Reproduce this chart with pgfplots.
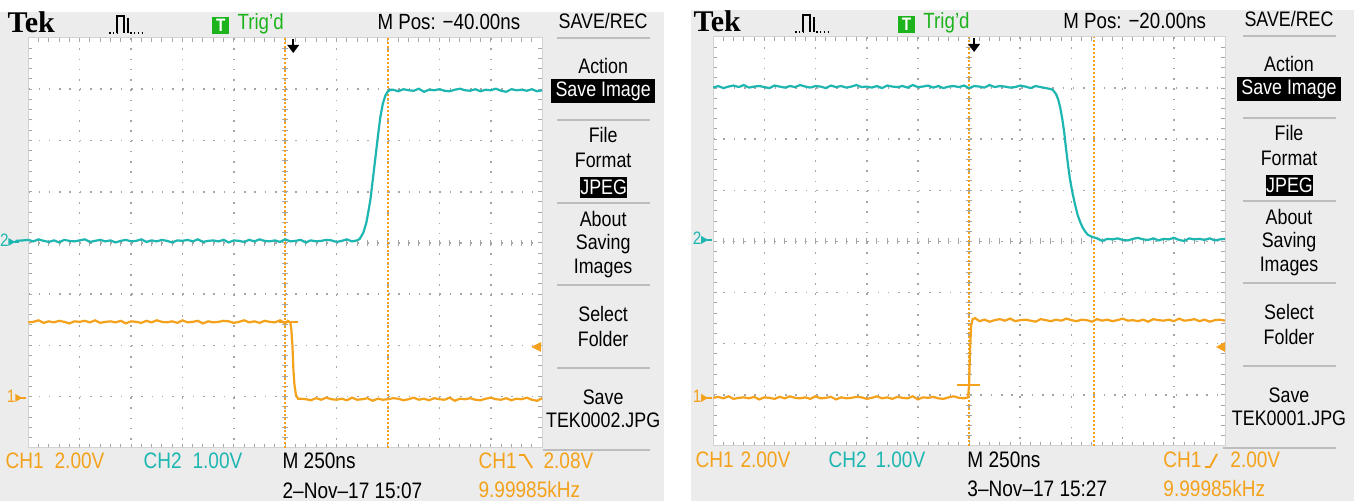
\documentclass[border=0pt]{standalone}
\usepackage{pgfplots}
\pgfplotsset{compat=1.18}
\usepackage{fontspec}
\setmainfont{Liberation Sans}[FakeStretch=0.85]
\newfontfamily\tekfont{Liberation Serif}
\definecolor{tekorange}{HTML}{F4A21C}
\definecolor{tekcyan}{HTML}{1EB6B0}
\definecolor{tekgreen}{HTML}{1DB31D}
\definecolor{panelbg}{HTML}{ECECEC}
\definecolor{sepc}{HTML}{BDBDBD}
\definecolor{gridc}{HTML}{A6A6A6}
\newcommand\mfont{\fontsize{10.5}{12}\selectfont}
\newcommand\bfont{\fontsize{11.2}{13}\selectfont}
\newcommand\hfont{\fontsize{11}{13}\selectfont}

% graticule: x0,y0,w,h (px)
\newcommand\graticule[4]{%
  \fill[white] (#1,#2) rectangle ++(#3,#4);
  \foreach \k in {1,...,9}{%
    \draw[gridc,line width=0.8pt,dash pattern=on 0.8pt off 4.33pt] ({#1+\k*(#3/10)},#2) -- ++(0,#4);}
  \foreach \k in {1,...,7}{%
    \draw[gridc,line width=0.8pt,dash pattern=on 0.8pt off 4.34pt] (#1,{#2+\k*(#4/8)}) -- ++(#3,0);}
  \foreach \m in {1,...,49}{%
    \draw[gridc,line width=0.5pt] ({#1+\m*(#3/50)},#2) -- ++(0,4);
    \draw[gridc,line width=0.5pt] ({#1+\m*(#3/50)},{#2+#4}) -- ++(0,-4);
    \draw[gridc,line width=0.5pt] ({#1+\m*(#3/50)},{#2+#4/2-3}) -- ++(0,6);}
  \foreach \m in {1,...,39}{%
    \draw[gridc,line width=0.5pt] (#1,{#2+\m*(#4/40)}) -- ++(4,0);
    \draw[gridc,line width=0.5pt] ({#1+#3},{#2+\m*(#4/40)}) -- ++(-4,0);
    \draw[gridc,line width=0.5pt] ({#1+#3/2-3},{#2+\m*(#4/40)}) -- ++(6,0);}
  \draw[gridc!50,line width=0.5pt] (#1,#2) rectangle ++(#3,#4);
}

\newcommand\menu[4]{% xc, dy, filename, bottom-line left offset
 \begin{scope}[shift={(#1,#2)}]
  \node[anchor=base,inner sep=0,font=\mfont] at (0,29) {SAVE/REC};
  \foreach \yy in {38,120,203,285,368}{\draw[sepc,line width=0.9pt] (-46,\yy) -- (47,\yy);}
  \node[anchor=base,inner sep=0,font=\mfont] at (0,74) {Action};
  \fill[black] (-52,79) rectangle (52,103);
  \node[anchor=base,inner sep=0,font=\mfont,text=white] at (0,97) {Save Image};
  \node[anchor=base,inner sep=0,font=\mfont] at (0,143) {File};
  \node[anchor=base,inner sep=0,font=\mfont] at (0,168) {Format};
  \fill[black] (-23,177) rectangle (24,198);
  \node[anchor=base,inner sep=0,font=\mfont,text=white] at (0.5,195) {JPEG};
  \node[anchor=base,inner sep=0,font=\mfont] at (0,227) {About};
  \node[anchor=base,inner sep=0,font=\mfont] at (0,250) {Saving};
  \node[anchor=base,inner sep=0,font=\mfont] at (0,274) {Images};
  \node[anchor=base,inner sep=0,font=\mfont] at (0,322) {Select};
  \node[anchor=base,inner sep=0,font=\mfont] at (0,347) {Folder};
  \node[anchor=base,inner sep=0,font=\mfont] at (0,405) {Save};
  \node[anchor=base,inner sep=0,font=\mfont] at (0,428) {#3};
  \draw[sepc,line width=0.9pt] (#4,450) -- (47,450);
 \end{scope}}

\newcommand\header[3]{% x0, dy, mpos
 \begin{scope}[shift={(#1,#2)}]
  \node[anchor=base west,inner sep=0,font=\tekfont\bfseries\fontsize{15}{16}\selectfont] at (7,33) {Tek};
  \draw[line width=0.7pt,dash pattern=on 0.7pt off 1.2pt] (109,33) -- (117,33);
  \draw[line width=0.8pt] (117,33) -- (117,16) -- (124,16) -- (124,33);
  \draw[line width=0.8pt] (128,18) -- (128,33);
  \draw[line width=0.7pt,dash pattern=on 0.7pt off 1.2pt] (130,33) -- (145,33);
  \fill[tekgreen] (212,17) rectangle (229,34);
  \node[text=white,inner sep=0,font=\fontsize{9}{10}\selectfont\bfseries] at (220.5,25.5) {T};
  \node[anchor=base west,inner sep=0,font=\hfont,text=tekgreen] at (237,30) {Trig’d};
  \node[anchor=base west,inner sep=0,font=\hfont] at (377,30) {M Pos: #3};
 \end{scope}}

\newcommand\chmark[4]{% x, y, colour, label
  \node[anchor=base,inner sep=0,text=#3,font=\fontsize{9}{10}\selectfont] at (#1,{#2+5}) {#4};
  \fill[#3] ({#1+4},{#2-4}) -- ({#1+11},#2) -- ({#1+4},{#2+4}) -- cycle;
  \draw[#3,line width=0.8pt] ({#1+10},#2) -- ({#1+15},#2);
}

\begin{document}
\begin{tikzpicture}
\begin{scope}[x=0.5pt,y=-0.5pt]
  \fill[white] (0,0) rectangle (1356,501);
  \fill[panelbg] (0,12) rectangle (664,501);
  \fill[panelbg] (691,10) rectangle (1354,501);
  \graticule{28}{38}{514}{410}
  \graticule{713}{37}{512}{409}
\end{scope}

% ---------------- left screen ----------------
\begin{axis}[at={(14pt,-19pt)},anchor=north west,scale only axis,
  width=257pt,height=205pt,xmin=0,xmax=10,ymin=-4,ymax=4,hide axis,no markers,clip=false]
\draw[tekorange,line width=0.9pt,dash pattern=on 0.9pt off 1.1pt] (axis cs:5,-4) -- (axis cs:5,4);
\draw[tekorange,line width=0.9pt,dash pattern=on 0.9pt off 1.1pt] (axis cs:7,-4) -- (axis cs:7,4);
% CH2
\addplot[tekcyan,line width=1.1pt] coordinates {
(-0.25,0.04)(-0.1,0.05)
(0.0,0.06)(0.1,0.03)(0.2,0.07)(0.3,0.04)(0.4,0.02)(0.5,0.05)(0.6,0.01)(0.7,0.06)(0.8,0.04)(0.9,0.03)
(1.0,0.05)(1.1,0.07)(1.2,0.02)(1.3,0.04)(1.4,0.06)(1.5,0.03)(1.6,0.05)(1.7,0.01)(1.8,0.04)(1.9,0.06)
(2.0,0.03)(2.1,0.04)(2.2,0.07)(2.3,0.02)(2.4,0.05)(2.5,0.03)(2.6,0.06)(2.7,0.04)(2.8,0.01)(2.9,0.05)
(3.0,0.04)(3.1,0.06)(3.2,0.03)(3.3,0.07)(3.4,0.02)(3.5,0.04)(3.6,0.05)(3.7,0.03)(3.8,0.06)(3.9,0.01)
(4.0,0.05)(4.1,0.04)(4.2,0.02)(4.3,0.06)(4.4,0.03)(4.5,0.07)(4.6,0.04)(4.7,0.03)(4.8,0.05)(4.9,0.02)
(5.0,0.07)(5.1,0.03)(5.2,0.04)(5.3,0.06)(5.4,0.01)(5.5,0.05)(5.6,0.03)(5.7,0.04)(5.8,0.06)(5.9,0.05)
(6.0,0.02)(6.1,0.04)(6.2,0.07)(6.3,0.03)
(6.40,0.05)(6.45,0.08)(6.52,0.20)(6.58,0.40)(6.62,0.62)(6.66,0.86)(6.70,1.20)(6.75,1.62)(6.80,2.05)
(6.85,2.45)(6.90,2.72)(6.95,2.88)(7.00,2.96)(7.05,2.99)
(7.1,2.99)(7.2,2.96)(7.3,3.00)(7.4,2.98)(7.5,2.97)(7.6,3.01)(7.7,2.95)(7.8,2.99)(7.9,2.98)(8.0,3.00)
(8.1,2.97)(8.2,2.96)(8.3,2.99)(8.4,3.01)(8.5,2.98)(8.6,2.97)(8.7,3.00)(8.8,2.96)(8.9,2.99)(9.0,2.98)
(9.1,3.01)(9.2,2.97)(9.3,2.95)(9.4,3.00)(9.5,2.98)(9.6,2.99)(9.7,2.97)(9.8,3.00)(9.9,2.96)(10.0,2.98)
};
% CH1
\addplot[tekorange,line width=1.1pt] coordinates {
(0.0,-1.55)(0.1,-1.54)(0.2,-1.51)(0.3,-1.56)(0.4,-1.53)(0.5,-1.55)(0.6,-1.52)(0.7,-1.54)(0.8,-1.57)(0.9,-1.53)
(1.0,-1.54)(1.1,-1.52)(1.2,-1.55)(1.3,-1.51)(1.4,-1.56)(1.5,-1.54)(1.6,-1.53)(1.7,-1.55)(1.8,-1.52)(1.9,-1.57)
(2.0,-1.53)(2.1,-1.54)(2.2,-1.56)(2.3,-1.52)(2.4,-1.55)(2.5,-1.51)(2.6,-1.54)(2.7,-1.55)(2.8,-1.53)(2.9,-1.56)
(3.0,-1.51)(3.1,-1.55)(3.2,-1.54)(3.3,-1.52)(3.4,-1.57)(3.5,-1.53)(3.6,-1.55)(3.7,-1.54)(3.8,-1.52)(3.9,-1.53)
(4.0,-1.56)(4.1,-1.54)(4.2,-1.51)(4.3,-1.55)(4.4,-1.53)(4.5,-1.56)(4.6,-1.52)(4.7,-1.54)(4.8,-1.55)(4.9,-1.51)
(5.0,-1.57)(5.05,-1.52)(5.10,-1.55)
(5.12,-1.70)(5.14,-1.99)(5.16,-2.48)(5.18,-2.77)(5.21,-2.97)(5.25,-3.04)
(5.3,-3.04)(5.4,-3.05)(5.5,-3.07)(5.6,-3.03)(5.7,-3.06)(5.8,-3.02)(5.9,-3.05)(6.0,-3.06)(6.1,-3.04)(6.2,-3.07)
(6.3,-3.02)(6.4,-3.06)(6.5,-3.05)(6.6,-3.03)(6.7,-3.08)(6.8,-3.04)(6.9,-3.06)(7.0,-3.05)(7.1,-3.03)(7.2,-3.04)
(7.3,-3.07)(7.4,-3.05)(7.5,-3.02)(7.6,-3.06)(7.7,-3.04)(7.8,-3.07)(7.9,-3.03)(8.0,-3.05)(8.1,-3.06)(8.2,-3.02)
(8.3,-3.08)(8.4,-3.04)(8.5,-3.05)(8.6,-3.03)(8.7,-3.06)(8.8,-3.07)(8.9,-3.04)(9.0,-3.02)(9.1,-3.05)(9.2,-3.06)
(9.3,-3.03)(9.4,-3.07)(9.5,-3.04)(9.6,-3.05)(9.7,-3.02)(9.8,-3.06)(9.9,-3.08)(10.0,-3.03)
};
\end{axis}

% ---------------- right screen ----------------
\begin{axis}[at={(356.5pt,-18.5pt)},anchor=north west,scale only axis,
  width=256pt,height=204.5pt,xmin=0,xmax=10,ymin=-4,ymax=4,hide axis,no markers]
\draw[tekorange,line width=0.9pt,dash pattern=on 0.9pt off 1.1pt] (axis cs:5,-4) -- (axis cs:5,4);
\draw[tekorange,line width=0.9pt,dash pattern=on 0.9pt off 1.1pt] (axis cs:7.44,-4) -- (axis cs:7.44,4);
% CH2
\addplot[tekcyan,line width=1.1pt] coordinates {
(0.0,3.01)(0.1,3.04)(0.2,3.00)(0.3,3.03)(0.4,3.05)(0.5,3.02)(0.6,3.06)(0.7,3.01)(0.8,3.03)(0.9,3.04)
(1.0,3.02)(1.1,3.00)(1.2,3.05)(1.3,3.03)(1.4,3.01)(1.5,3.04)(1.6,3.02)(1.7,3.06)(1.8,3.03)(1.9,3.01)
(2.0,3.04)(2.1,3.03)(2.2,3.00)(2.3,3.05)(2.4,3.02)(2.5,3.04)(2.6,3.01)(2.7,3.03)(2.8,3.06)(2.9,3.02)
(3.0,3.03)(3.1,3.01)(3.2,3.04)(3.3,3.00)(3.4,3.05)(3.5,3.03)(3.6,3.02)(3.7,3.04)(3.8,3.01)(3.9,3.06)
(4.0,3.02)(4.1,3.03)(4.2,3.05)(4.3,3.01)(4.4,3.04)(4.5,3.00)(4.6,3.03)(4.7,3.04)(4.8,3.02)(4.9,3.05)
(5.0,3.00)(5.1,3.04)(5.2,3.03)(5.3,3.01)(5.4,3.06)(5.5,3.02)(5.6,3.04)(5.7,3.03)(5.8,3.01)(5.9,3.02)
(6.0,3.05)(6.1,3.03)(6.2,3.00)(6.3,3.04)(6.4,3.02)
(6.5,3.00)(6.6,2.98)(6.64,2.96)(6.70,2.88)(6.74,2.78)(6.78,2.62)(6.82,2.40)(6.86,2.12)(6.89,1.85)
(6.93,1.52)(6.97,1.22)(7.02,0.95)(7.07,0.72)(7.12,0.52)(7.17,0.38)(7.22,0.27)(7.27,0.19)(7.32,0.13)
(7.40,0.09)(7.50,0.06)
(7.6,0.01)(7.7,0.05)(7.8,0.04)(7.9,0.06)(8.0,0.03)(8.1,0.02)(8.2,0.05)(8.3,0.07)(8.4,0.04)(8.5,0.03)
(8.6,0.06)(8.7,0.02)(8.8,0.05)(8.9,0.04)(9.0,0.07)(9.1,0.03)(9.2,0.01)(9.3,0.06)(9.4,0.04)(9.5,0.05)
(9.6,0.03)(9.7,0.06)(9.8,0.02)(9.9,0.04)(10.0,0.05)
};
% CH1
\addplot[tekorange,line width=1.1pt] coordinates {
(0.0,-3.06)(0.1,-3.04)(0.2,-3.07)(0.3,-3.03)(0.4,-3.08)(0.5,-3.06)(0.6,-3.05)(0.7,-3.07)(0.8,-3.04)(0.9,-3.09)
(1.0,-3.05)(1.1,-3.06)(1.2,-3.08)(1.3,-3.04)(1.4,-3.07)(1.5,-3.03)(1.6,-3.06)(1.7,-3.07)(1.8,-3.05)(1.9,-3.08)
(2.0,-3.03)(2.1,-3.07)(2.2,-3.06)(2.3,-3.04)(2.4,-3.09)(2.5,-3.05)(2.6,-3.07)(2.7,-3.06)(2.8,-3.04)(2.9,-3.05)
(3.0,-3.08)(3.1,-3.06)(3.2,-3.03)(3.3,-3.07)(3.4,-3.05)(3.5,-3.08)(3.6,-3.04)(3.7,-3.06)(3.8,-3.07)(3.9,-3.03)
(4.0,-3.09)(4.1,-3.05)(4.2,-3.06)(4.3,-3.04)(4.4,-3.07)(4.5,-3.08)(4.6,-3.05)(4.7,-3.03)(4.8,-3.06)(4.9,-3.07)
(4.98,-3.05)(5.00,-2.80)(5.02,-2.10)(5.04,-1.65)(5.07,-1.52)(5.12,-1.50)
(5.2,-1.56)(5.3,-1.53)(5.4,-1.57)(5.5,-1.54)(5.6,-1.52)(5.7,-1.55)(5.8,-1.51)(5.9,-1.56)(6.0,-1.54)(6.1,-1.53)
(6.2,-1.55)(6.3,-1.57)(6.4,-1.52)(6.5,-1.54)(6.6,-1.56)(6.7,-1.53)(6.8,-1.55)(6.9,-1.51)(7.0,-1.54)(7.1,-1.56)
(7.2,-1.53)(7.3,-1.54)(7.4,-1.57)(7.5,-1.52)(7.6,-1.55)(7.7,-1.53)(7.8,-1.56)(7.9,-1.54)(8.0,-1.51)(8.1,-1.55)
(8.2,-1.54)(8.3,-1.56)(8.4,-1.53)(8.5,-1.57)(8.6,-1.52)(8.7,-1.54)(8.8,-1.55)(8.9,-1.53)(9.0,-1.56)(9.1,-1.51)
(9.2,-1.55)(9.3,-1.54)(9.4,-1.52)(9.5,-1.56)(9.6,-1.53)(9.7,-1.57)(9.8,-1.54)(9.9,-1.53)(10.0,-1.55)
};
\end{axis}

\begin{scope}[x=0.5pt,y=-0.5pt]
  % headers
  \header{0}{0}{−40.00ns}
  \header{686}{-1}{−20.00ns}
  % menus
  \menu{603}{0}{TEK0002.JPG}{-60}
  \menu{1289}{-2}{TEK0001.JPG}{-66}
  % channel markers
  \chmark{4}{242}{tekcyan}{2}
  \chmark{11}{398}{tekorange}{1}
  \chmark{697}{240}{tekcyan}{2}
  \chmark{697}{398}{tekorange}{1}
  % trigger level arrows
  \fill[tekorange] (531,347) -- (541,342) -- (541,352) -- cycle;
  \fill[tekorange] (1216,347) -- (1225,342) -- (1225,352) -- cycle;
  % trigger position arrows
  \draw[line width=1.2pt] (293,39) -- (293,47);
  \fill (287,45) -- (299,45) -- (293,53) -- cycle;
  \draw[line width=1.2pt] (974,38) -- (974,46);
  \fill (968,44) -- (980,44) -- (974,52) -- cycle;
  % small trigger marks
  \draw[tekorange,line width=0.9pt] (279,322) -- (298,322);
  \draw[tekorange,line width=0.9pt] (957,385) -- (980,385);
  % bottom readouts, left
  \node[anchor=base west,inner sep=0,font=\bfont,text=tekorange] at (5,469) {CH1};
  \node[anchor=base west,inner sep=0,font=\bfont,text=tekorange] at (54,469) {2.00V};
  \node[anchor=base west,inner sep=0,font=\bfont,text=tekcyan] at (143,469) {CH2};
  \node[anchor=base west,inner sep=0,font=\bfont,text=tekcyan] at (192,469) {1.00V};
  \node[anchor=base west,inner sep=0,font=\bfont] at (282,469) {M 250ns};
  \node[anchor=base west,inner sep=0,font=\bfont] at (282,499) {2–Nov–17 15:07};
  \node[anchor=base west,inner sep=0,font=\bfont,text=tekorange] at (478,469) {CH1};
  \draw[tekorange,line width=0.9pt] (519,455) -- (524,455) -- (532,468);
  \node[anchor=base west,inner sep=0,font=\bfont,text=tekorange] at (543,469) {2.08V};
  \node[anchor=base west,inner sep=0,font=\bfont,text=tekorange] at (478,498) {9.99985kHz};
  % bottom readouts, right
  \node[anchor=base west,inner sep=0,font=\bfont,text=tekorange] at (695,468) {CH1};
  \node[anchor=base west,inner sep=0,font=\bfont,text=tekorange] at (740,468) {2.00V};
  \node[anchor=base west,inner sep=0,font=\bfont,text=tekcyan] at (828,468) {CH2};
  \node[anchor=base west,inner sep=0,font=\bfont,text=tekcyan] at (875,468) {1.00V};
  \node[anchor=base west,inner sep=0,font=\bfont] at (967,468) {M 250ns};
  \node[anchor=base west,inner sep=0,font=\bfont] at (967,497) {3–Nov–17 15:27};
  \node[anchor=base west,inner sep=0,font=\bfont,text=tekorange] at (1163,468) {CH1};
  \draw[tekorange,line width=0.9pt] (1205,467) -- (1210,467) -- (1217,454);
  \node[anchor=base west,inner sep=0,font=\bfont,text=tekorange] at (1230,468) {2.00V};
  \node[anchor=base west,inner sep=0,font=\bfont,text=tekorange] at (1163,497) {9.99985kHz};
  \path (0,0) rectangle (1356,501);
\end{scope}
\end{tikzpicture}
\end{document}
